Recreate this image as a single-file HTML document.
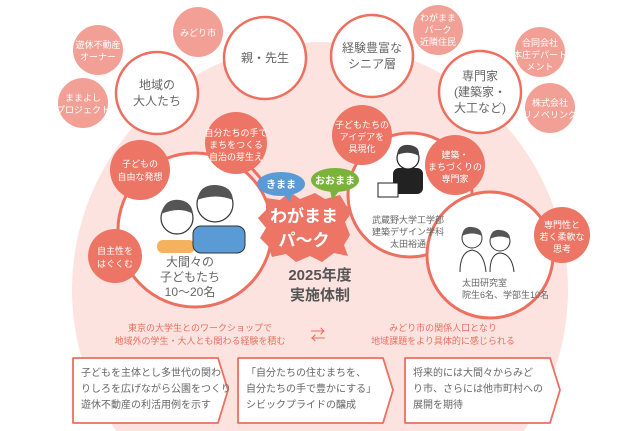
<!DOCTYPE html>
<html><head><meta charset="utf-8"><style>
html,body{margin:0;padding:0;background:#fff;width:640px;height:431px;overflow:hidden;position:relative}
svg{display:block;position:absolute;left:0;top:0;overflow:hidden}
text{font-family:"Liberation Sans","Noto Sans CJK JP",sans-serif}
</style></head><body>
<svg width="640" height="431" viewBox="0 0 640 431" xmlns="http://www.w3.org/2000/svg">
<path d="M116 431 A248 248 0 1 1 524 431 Z" fill="#fde3e0"/>
<g fill="#f2a095">
<circle cx="98" cy="50" r="25"/><circle cx="198" cy="32" r="25"/><circle cx="83" cy="103" r="25"/>
<circle cx="438" cy="30" r="25"/><circle cx="540" cy="52" r="25"/><circle cx="550" cy="108" r="25"/>
</g>
<g fill="#fff" font-size="9" text-anchor="middle">
<text x="98" y="48">遊休不動産</text><text x="98" y="60">オーナー</text>
<text x="198" y="36">みどり市</text>
<text x="83" y="101">ままよし</text><text x="83" y="113">プロジェクト</text>
<text x="438" y="21">わがまま</text><text x="438" y="33">パーク</text><text x="438" y="45">近隣住民</text>
<text x="540" y="46">合同会社</text><text x="540" y="58">本庄デパート</text><text x="540" y="70">メント</text>
<text x="550" y="106">株式会社</text><text x="550" y="118">リノベリング</text>
</g>
<g fill="#fff" stroke="#ec6f5f" stroke-width="2.5">
<circle cx="157" cy="93" r="41"/><circle cx="265" cy="58" r="41"/>
<circle cx="372" cy="56" r="41"/><circle cx="480" cy="92" r="41"/>
</g>
<g fill="#666" font-size="12" text-anchor="middle">
<text x="157" y="89">地域の</text><text x="157" y="105">大人たち</text>
<text x="265" y="62">親・先生</text>
<text x="372" y="52">経験豊富な</text><text x="372" y="68">シニア層</text>
<text x="480" y="80">専門家</text><text x="480" y="96">(建築家・</text><text x="480" y="112">大工など)</text>
</g>
<g fill="#fff" stroke="#ec6f5f" stroke-width="3">
<circle cx="195" cy="230" r="77"/>
<circle cx="410" cy="195" r="62"/>
<circle cx="490" cy="255" r="63"/>
</g>
<line x1="236" y1="150" x2="275" y2="195" stroke="#ec6f5f" stroke-width="3"/>
<rect x="157" y="240" width="38" height="13" rx="6" fill="#f5b25e"/>
<rect x="193" y="226" width="52" height="27" rx="8" fill="#5b9bd5" stroke="#333" stroke-width="1"/>
<circle cx="177" cy="218" r="16" fill="#fff" stroke="#333" stroke-width="1.2"/>
<path d="M161 214 Q165 198 180 200 Q192 202 193 214 Q180 206 161 214Z" fill="#555"/>
<circle cx="215" cy="204" r="18" fill="#fff" stroke="#333" stroke-width="1.2"/>
<path d="M197 200 Q200 184 216 185 Q232 186 233 200 Q216 193 197 200Z" fill="#555"/>
<g fill="#666" font-size="12" text-anchor="middle">
<text x="190" y="266">大間々の</text><text x="190" y="281">子どもたち</text><text x="190" y="296">10〜20名</text>
</g>
<rect x="393" y="168" width="30" height="26" rx="6" fill="#222"/>
<circle cx="408" cy="158" r="11" fill="#fff" stroke="#222" stroke-width="1.2"/>
<path d="M397 155 Q398 144 409 145 Q420 146 419 156 Q409 150 397 155Z" fill="#444"/>
<rect x="378" y="183" width="20" height="14" fill="#fff" stroke="#222" stroke-width="1"/>
<g fill="#666" font-size="9" text-anchor="middle">
<text x="408" y="223">武蔵野大学工学部</text><text x="408" y="235">建築デザイン学科</text><text x="408" y="247">太田裕通</text>
</g>
<circle cx="472" cy="238" r="10" fill="#fff" stroke="#333"/><path d="M462 236 Q463 226 472 227 Q482 228 482 236 Q472 231 462 236Z" fill="#555"/>
<circle cx="500" cy="241" r="10" fill="#fff" stroke="#333"/><path d="M490 239 Q491 229 500 230 Q510 231 510 239 Q500 234 490 239Z" fill="#555"/>
<path d="M460 272 Q460 252 472 250 Q484 252 486 272" fill="none" stroke="#333"/>
<path d="M490 272 Q490 254 500 253 Q512 254 514 272" fill="none" stroke="#333"/>
<g fill="#666" font-size="9">
<text x="462" y="286">太田研究室</text><text x="462" y="298">院生6名、学部生10名</text>
</g>
<g fill="#ec7565">
<circle cx="140" cy="170" r="30"/><circle cx="236" cy="143" r="31"/><circle cx="115" cy="256" r="27"/>
<circle cx="362" cy="135" r="30"/><circle cx="455" cy="165" r="30"/><circle cx="562" cy="235" r="28"/>
</g>
<g fill="#fff" font-size="9" text-anchor="middle">
<text x="140" y="167">子どもの</text><text x="140" y="180">自由な発想</text>
<text x="236" y="136">自分たちの手で</text><text x="236" y="148">まちをつくる</text><text x="236" y="160">自治の芽生え</text>
<text x="115" y="254">自主性を</text><text x="115" y="267">はぐくむ</text>
<text x="362" y="128">子どもたちの</text><text x="362" y="140">アイデアを</text><text x="362" y="152">具現化</text>
<text x="455" y="158">建築・</text><text x="455" y="170">まちづくりの</text><text x="455" y="182">専門家</text>
<text x="562" y="228">専門性と</text><text x="562" y="240">若く柔軟な</text><text x="562" y="252">思考</text>
</g>
<path d="M266 198 L280 200 L290 192 L300 199 L315 193 L325 199 L340 195 L346 205 L352 212 L345 222 L350 235 L344 245 L348 256 L334 253 L322 262 L310 256 L296 262 L286 254 L272 257 L268 246 L260 238 L266 228 L258 218 L266 210Z" fill="#ec7565"/>
<text x="304" y="222" fill="#fff" font-size="17" text-anchor="middle" font-weight="bold">わがまま</text>
<text x="304" y="246" fill="#fff" font-size="17" text-anchor="middle" font-weight="bold">パ〜ク</text>
<ellipse cx="281" cy="184" rx="24" ry="12" fill="#5b9bd5"/><path d="M283 194 L290 202 L292 193Z" fill="#5b9bd5"/>
<text x="281" y="188" fill="#fff" font-size="10" text-anchor="middle" font-weight="bold">きまま</text>
<ellipse cx="335" cy="180" rx="24" ry="12" fill="#7bb33a"/><path d="M330 190 L332 200 L340 190Z" fill="#7bb33a"/>
<text x="335" y="184" fill="#fff" font-size="10" text-anchor="middle" font-weight="bold">おおまま</text>
<text x="320" y="280" fill="#555" font-size="15" font-weight="bold" text-anchor="middle">2025年度</text>
<text x="320" y="300" fill="#555" font-size="15" font-weight="bold" text-anchor="middle">実施体制</text>
<g fill="#ec6f5f" font-size="9" text-anchor="middle">
<text x="200" y="331">東京の大学生とのワークショップで</text><text x="200" y="344">地域外の学生・大人とも関わる経験を積む</text>
<text x="443" y="331">みどり市の関係人口となり</text><text x="443" y="344">地域課題をより具体的に感じられる</text>
</g>
<text x="318" y="340" fill="#ec6f5f" font-size="15" text-anchor="middle">⇄</text>
<g fill="#fff" stroke="#ec6f5f" stroke-width="1.8" stroke-linejoin="round">
<path d="M73 358 H218 L228 390 L218 423 H73Z"/>
<path d="M238 358 H383 L393 390 L383 423 H238Z"/>
<path d="M405 358 H550 L560 390 L550 423 H405Z"/>
</g>
<g fill="#666" font-size="10">
<text x="81" y="376">子どもを主体とし多世代の関わ</text><text x="81" y="392">りしろを広げながら公園をつくり</text><text x="81" y="408">遊休不動産の利活用例を示す</text>
<text x="246" y="376">「自分たちの住むまちを、</text><text x="246" y="392">自分たちの手で豊かにする」</text><text x="246" y="408">シビックプライドの醸成</text>
<text x="413" y="376">将来的には大間々からみど</text><text x="413" y="392">り市、さらには他市町村への</text><text x="413" y="408">展開を期待</text>
</g>
</svg>
</body></html>
